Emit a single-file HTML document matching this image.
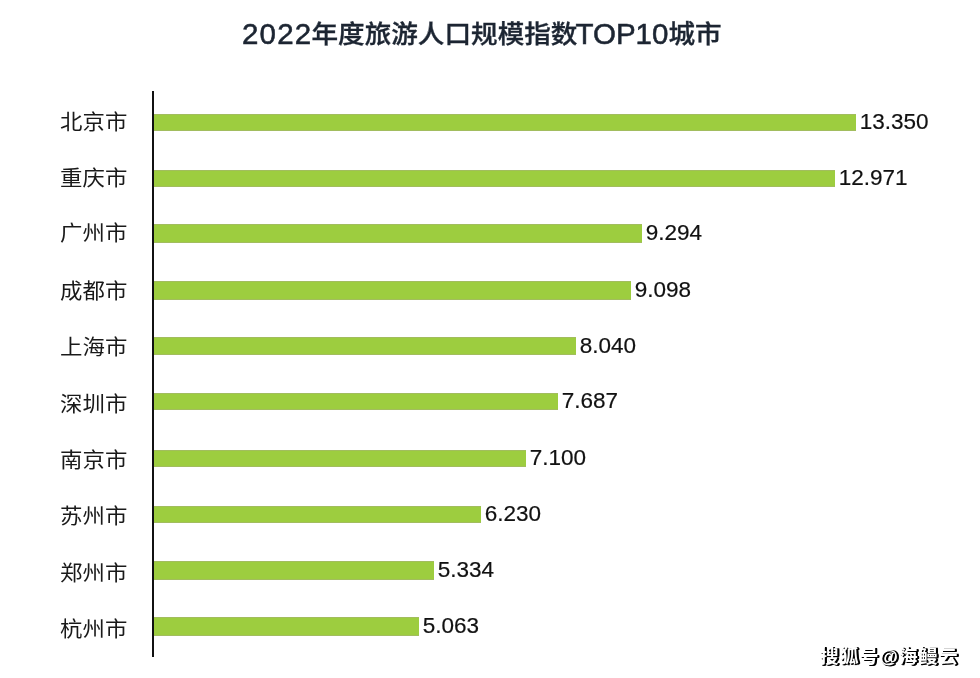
<!DOCTYPE html>
<html lang="zh-CN"><head><meta charset="utf-8">
<title>2022年度旅游人口规模指数TOP10城市</title>
<style>
html,body{margin:0;padding:0;background:#fff;}
body{width:980px;height:678px;position:relative;overflow:hidden;}
.title{position:absolute;left:242px;top:0;margin:0;width:700px;height:60px;white-space:nowrap;color:#1c2532;font-weight:400;font-size:16px;}
.title span{position:relative;display:inline-block;vertical-align:top;line-height:60px;height:60px;}
.lat{font-family:"Liberation Sans",sans-serif;font-size:29.5px;-webkit-text-stroke:0.55px #1c2532;}
.cjk{font-family:"Liberation Sans","Noto Sans CJK SC",sans-serif;font-size:26.6px;font-weight:500;-webkit-text-stroke:0.35px #1c2532;transform:scaleY(0.95);transform-origin:50% 29px;}
.axis{position:absolute;left:152px;top:91px;width:2px;height:566px;background:#111;}
.bar{position:absolute;left:154px;background:#9dcd3f;box-shadow:inset 0 1px 0 #a2bd5e,inset 0 -1px 0 #a2bd5e;}
.lbl{position:absolute;left:59.7px;font-family:"Liberation Sans","Noto Sans CJK SC",sans-serif;font-size:22px;line-height:30px;color:#1a1a1a;transform:scale(1.02,0.95);transform-origin:0 50%;white-space:nowrap;}
.val{position:absolute;font-family:"Liberation Sans",sans-serif;font-size:22.5px;line-height:30px;color:#111;-webkit-text-stroke:0.2px #111;white-space:nowrap;}
.wm{position:absolute;left:820px;top:644.5px;font-family:"Liberation Sans","Noto Sans CJK SC",sans-serif;font-size:18.6px;letter-spacing:1.3px;line-height:24px;font-weight:700;color:#fff;text-shadow:2px 1px 0 #000,1px 1px 0 #000,2px 0 0 #000;white-space:nowrap;}
</style></head><body>
<h1 class="title"><span class="lat" style="width:69.5px;top:3.5px;letter-spacing:1.2px">2022</span><span class="cjk" style="width:264px;top:4.3px">年度旅游人口规模指数</span><span class="lat" style="width:93px;top:3.5px">TOP10</span><span class="cjk" style="top:4.3px">城市</span></h1>
<div class="axis"></div>
<div class="bar" style="top:114px;height:17px;width:702px"></div>
<div class="lbl" style="top:106.7px">北京市</div>
<div class="val" style="top:107.3px;left:859.8px">13.350</div>
<div class="bar" style="top:170px;height:17px;width:681px"></div>
<div class="lbl" style="top:163.1px">重庆市</div>
<div class="val" style="top:163.3px;left:838.8px">12.971</div>
<div class="bar" style="top:224px;height:19px;width:488px"></div>
<div class="lbl" style="top:218.4px">广州市</div>
<div class="val" style="top:218.3px;left:645.8px">9.294</div>
<div class="bar" style="top:281px;height:19px;width:477px"></div>
<div class="lbl" style="top:276.0px">成都市</div>
<div class="val" style="top:275.3px;left:634.8px">9.098</div>
<div class="bar" style="top:337px;height:18px;width:422px"></div>
<div class="lbl" style="top:331.7px">上海市</div>
<div class="val" style="top:330.8px;left:579.8px">8.040</div>
<div class="bar" style="top:393px;height:17px;width:404px"></div>
<div class="lbl" style="top:388.9px">深圳市</div>
<div class="val" style="top:386.3px;left:561.8px">7.687</div>
<div class="bar" style="top:450px;height:17px;width:372px"></div>
<div class="lbl" style="top:444.8px">南京市</div>
<div class="val" style="top:443.3px;left:529.8px">7.100</div>
<div class="bar" style="top:506px;height:17px;width:327px"></div>
<div class="lbl" style="top:501.0px">苏州市</div>
<div class="val" style="top:499.3px;left:484.8px">6.230</div>
<div class="bar" style="top:561px;height:19px;width:280px"></div>
<div class="lbl" style="top:557.8px">郑州市</div>
<div class="val" style="top:555.3px;left:437.8px">5.334</div>
<div class="bar" style="top:617px;height:19px;width:265px"></div>
<div class="lbl" style="top:613.7px">杭州市</div>
<div class="val" style="top:611.3px;left:422.8px">5.063</div>
<div class="wm">搜狐号@海鳗云</div>
</body></html>
